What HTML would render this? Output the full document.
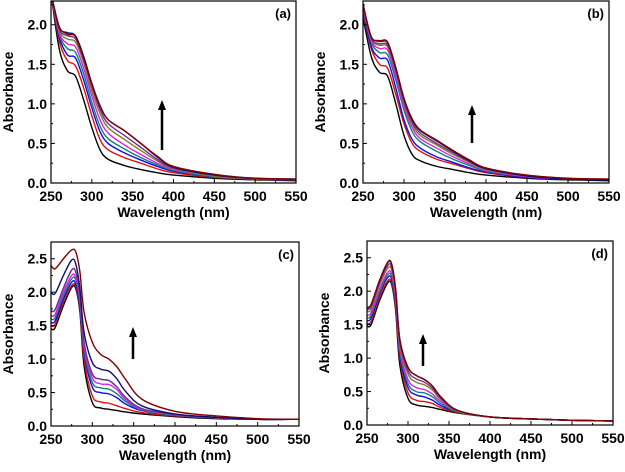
<!DOCTYPE html>
<html><head><meta charset="utf-8"><style>
body{margin:0;background:#fff;width:625px;height:467px;overflow:hidden}
svg text{font-family:"Liberation Sans",Arial,sans-serif;font-weight:bold;fill:#000}
</style></head><body>
<svg id="fig" width="625" height="467" xmlns="http://www.w3.org/2000/svg"></svg>
<script>
const colors=["#000000","#e01010","#1010e0","#108080","#e020e0","#808020","#7030a0","#101070","#800000"];
const wlAB=[250,260,270,280,290,300,310,320,340,360,380,400,450,500,550];
const wlCD=[250,255,265,275,280,285,290,300,310,320,330,340,360,400,450,500,550];
const seriesA=[
[2.4,1.7,1.42,1.35,1.05,0.7,0.42,0.3,0.22,0.17,0.13,0.1,0.06,0.04,0.03],
[2.4,1.8,1.55,1.48,1.2,0.85,0.55,0.42,0.32,0.25,0.18,0.13,0.07,0.05,0.04],
[2.4,1.85,1.62,1.58,1.3,0.95,0.65,0.5,0.38,0.29,0.21,0.15,0.08,0.05,0.04],
[2.4,1.88,1.7,1.65,1.38,1.02,0.72,0.56,0.43,0.32,0.23,0.16,0.08,0.05,0.04],
[2.4,1.9,1.76,1.72,1.45,1.1,0.8,0.63,0.48,0.36,0.25,0.17,0.09,0.05,0.04],
[2.4,1.93,1.82,1.78,1.52,1.16,0.88,0.7,0.55,0.41,0.28,0.18,0.09,0.05,0.04],
[2.4,1.95,1.86,1.82,1.56,1.22,0.93,0.75,0.6,0.45,0.3,0.19,0.1,0.05,0.04],
[2.4,1.97,1.9,1.86,1.6,1.26,0.98,0.8,0.66,0.5,0.33,0.2,0.1,0.06,0.05],
[2.4,1.98,1.88,1.85,1.58,1.25,0.97,0.8,0.66,0.5,0.34,0.21,0.11,0.06,0.05]];
const seriesB=[
[2.1,1.6,1.4,1.35,1.0,0.6,0.36,0.28,0.21,0.17,0.13,0.1,0.06,0.04,0.03],
[2.15,1.7,1.5,1.45,1.12,0.75,0.5,0.4,0.3,0.24,0.18,0.13,0.07,0.05,0.05],
[2.18,1.73,1.58,1.55,1.2,0.8,0.55,0.44,0.33,0.26,0.19,0.14,0.07,0.05,0.04],
[2.2,1.78,1.65,1.62,1.3,0.92,0.65,0.52,0.4,0.3,0.22,0.15,0.08,0.05,0.04],
[2.22,1.8,1.7,1.68,1.35,0.96,0.7,0.56,0.44,0.33,0.24,0.16,0.08,0.05,0.04],
[2.24,1.82,1.74,1.72,1.4,1.0,0.74,0.6,0.48,0.36,0.26,0.17,0.09,0.05,0.04],
[2.25,1.83,1.76,1.74,1.42,1.03,0.77,0.63,0.5,0.38,0.27,0.18,0.09,0.05,0.04],
[2.26,1.85,1.79,1.77,1.45,1.06,0.8,0.66,0.53,0.4,0.28,0.18,0.09,0.05,0.04],
[2.26,1.85,1.8,1.78,1.46,1.07,0.81,0.67,0.54,0.41,0.29,0.19,0.1,0.06,0.05]];
const seriesC=[
[1.45,1.47,1.8,2.07,2.05,1.7,0.9,0.35,0.27,0.25,0.23,0.21,0.18,0.14,0.11,0.1,0.1],
[1.5,1.52,1.85,2.1,2.08,1.75,1.0,0.45,0.36,0.34,0.3,0.26,0.2,0.15,0.12,0.1,0.1],
[1.55,1.57,1.9,2.15,2.12,1.8,1.1,0.58,0.5,0.48,0.42,0.33,0.23,0.16,0.12,0.1,0.1],
[1.6,1.62,1.95,2.2,2.18,1.85,1.15,0.65,0.57,0.55,0.48,0.37,0.24,0.16,0.12,0.1,0.1],
[1.65,1.67,2.0,2.25,2.22,1.9,1.2,0.72,0.63,0.62,0.54,0.4,0.25,0.17,0.12,0.1,0.1],
[1.72,1.74,2.06,2.33,2.3,1.95,1.25,0.78,0.7,0.68,0.58,0.43,0.26,0.17,0.12,0.1,0.1],
[1.72,1.74,2.06,2.33,2.3,1.95,1.25,0.78,0.7,0.68,0.58,0.43,0.26,0.17,0.12,0.1,0.1],
[2.0,1.98,2.25,2.48,2.42,2.05,1.4,0.95,0.85,0.82,0.7,0.52,0.3,0.18,0.13,0.1,0.1],
[2.4,2.35,2.5,2.63,2.6,2.3,1.7,1.25,1.07,1.0,0.88,0.7,0.4,0.22,0.15,0.11,0.1]];
const seriesD=[
[1.48,1.5,1.85,2.12,2.1,1.7,0.9,0.4,0.3,0.28,0.26,0.23,0.18,0.12,0.09,0.07,0.06],
[1.52,1.55,1.9,2.15,2.13,1.75,1.0,0.48,0.37,0.35,0.32,0.26,0.19,0.12,0.09,0.07,0.06],
[1.56,1.6,1.95,2.2,2.18,1.8,1.05,0.56,0.45,0.42,0.37,0.29,0.2,0.12,0.09,0.07,0.06],
[1.6,1.64,1.98,2.24,2.22,1.85,1.1,0.62,0.5,0.48,0.42,0.32,0.2,0.12,0.09,0.07,0.06],
[1.64,1.68,2.02,2.28,2.26,1.9,1.15,0.68,0.56,0.53,0.46,0.35,0.21,0.12,0.09,0.07,0.06],
[1.7,1.73,2.08,2.34,2.32,1.95,1.2,0.76,0.64,0.6,0.52,0.38,0.21,0.12,0.09,0.07,0.06],
[1.73,1.77,2.12,2.38,2.36,1.98,1.24,0.81,0.69,0.64,0.55,0.4,0.22,0.12,0.09,0.07,0.06],
[1.76,1.8,2.15,2.42,2.4,2.02,1.28,0.86,0.74,0.68,0.58,0.42,0.22,0.12,0.09,0.07,0.06],
[1.76,1.8,2.15,2.43,2.41,2.02,1.28,0.86,0.74,0.68,0.58,0.42,0.22,0.12,0.09,0.07,0.06]];
const xTicks=[250,300,350,400,450,500,550];
const yTicksAB=[0,0.5,1,1.5,2];
const yTicksCD=[0,0.5,1,1.5,2,2.5];
const panels=[
{id:"a",L:51,R:296,T:1,B:183,ymax:2.3,wl:wlAB,s:seriesA,yt:yTicksAB,arrow:[162,150,100]},
{id:"b",L:363,R:609,T:1,B:183,ymax:2.3,wl:wlAB,s:seriesB,yt:yTicksAB,arrow:[472,143,105]},
{id:"c",L:51,R:299,T:242,B:426,ymax:2.75,wl:wlCD,s:seriesC,yt:yTicksCD,arrow:[133,359,327]},
{id:"d",L:367,R:613,T:241,B:425,ymax:2.75,wl:wlCD,s:seriesD,yt:yTicksCD,arrow:[423,366,334]}];
const NS="http://www.w3.org/2000/svg";
const svg=document.getElementById("fig");
function mk(tag,attrs,parent){const e=document.createElementNS(NS,tag);for(const k in attrs)e.setAttribute(k,attrs[k]);(parent||svg).appendChild(e);return e;}
panels.forEach(p=>{
 const g=mk("g",{});
 
 
 const xs=v=>p.L+(v-250)/300*(p.R-p.L);
 const ys=v=>p.B-v/p.ymax*(p.B-p.T);
 const clipId="clip"+p.id;
 const cp=mk("clipPath",{id:clipId},g);mk("rect",{x:p.L,y:p.T,width:p.R-p.L,height:p.B-p.T},cp);
 const lg=mk("g",{"clip-path":"url(#"+clipId+")"},g);
 p.s.forEach((arr,i)=>{
  const pts=p.wl.map((w,j)=>[xs(w),ys(arr[j])]);
  let d="M"+pts[0][0]+","+pts[0][1];
  for(let j=0;j<pts.length-1;j++){const p0=pts[Math.max(0,j-1)],p1=pts[j],p2=pts[j+1],p3=pts[Math.min(pts.length-1,j+2)];
   d+=" C"+(p1[0]+(p2[0]-p0[0])/6)+","+(p1[1]+(p2[1]-p0[1])/6)+" "+(p2[0]-(p3[0]-p1[0])/6)+","+(p2[1]-(p3[1]-p1[1])/6)+" "+p2[0]+","+p2[1];}
  const path=mk("path",{d:d,fill:"none",stroke:colors[i],"stroke-width":1.4},lg);
  
  
 });
 const fr=mk("rect",{x:p.L,y:p.T,width:p.R-p.L,height:p.B-p.T,fill:"none",stroke:"#000","stroke-width":1.2},g);
 
 
 xTicks.forEach((t,i)=>{
  const x=xs(t);mk("line",{x1:x,x2:x,y1:p.B,y2:p.B-4,stroke:"#000"},g);
  if(i<xTicks.length-1){const xm=xs(t+25);mk("line",{x1:xm,x2:xm,y1:p.B,y2:p.B-2,stroke:"#000"},g);}
  const tx=mk("text",{x:x,y:p.B+18,"text-anchor":"middle","font-size":14},g);tx.textContent=t;
  
  
 });
 p.yt.forEach(t=>{
  const y=ys(t);mk("line",{x1:p.L,x2:p.L+4,y1:y,y2:y,stroke:"#000"},g);
  const ym=ys(t+0.25);if(ym>p.T)mk("line",{x1:p.L,x2:p.L+2,y1:ym,y2:ym,stroke:"#000"},g);
  const tx=mk("text",{x:p.L-4,y:y+5,"text-anchor":"end","font-size":14},g);tx.textContent=t.toFixed(1);
  
  
 });
 const xt=mk("text",{x:(p.L+p.R)/2,y:p.B+34,"text-anchor":"middle","font-size":14},g);xt.textContent="Wavelength (nm)";
 
 
 const yc=(p.T+p.B)/2;
 const yt=mk("text",{x:p.L-38,y:yc,"text-anchor":"middle","font-size":14,transform:"rotate(-90 "+(p.L-38)+" "+yc+")"},g);yt.textContent="Absorbance";
 
 
 const lb=mk("text",{x:p.R-5,y:p.T+17,"text-anchor":"end","font-size":13},g);lb.textContent="("+p.id+")";
 
 
 const [ax,ay1,ay2]=p.arrow;
 const ar=mk("g",{},g);
 
 
 mk("line",{x1:ax,x2:ax,y1:ay1,y2:ay2+8,stroke:"#000","stroke-width":2.5},ar);
 mk("polygon",{points:(ax-4)+","+(ay2+10)+" "+(ax+4)+","+(ay2+10)+" "+ax+","+ay2,fill:"#000"},ar);
});
</script>
</body></html>
